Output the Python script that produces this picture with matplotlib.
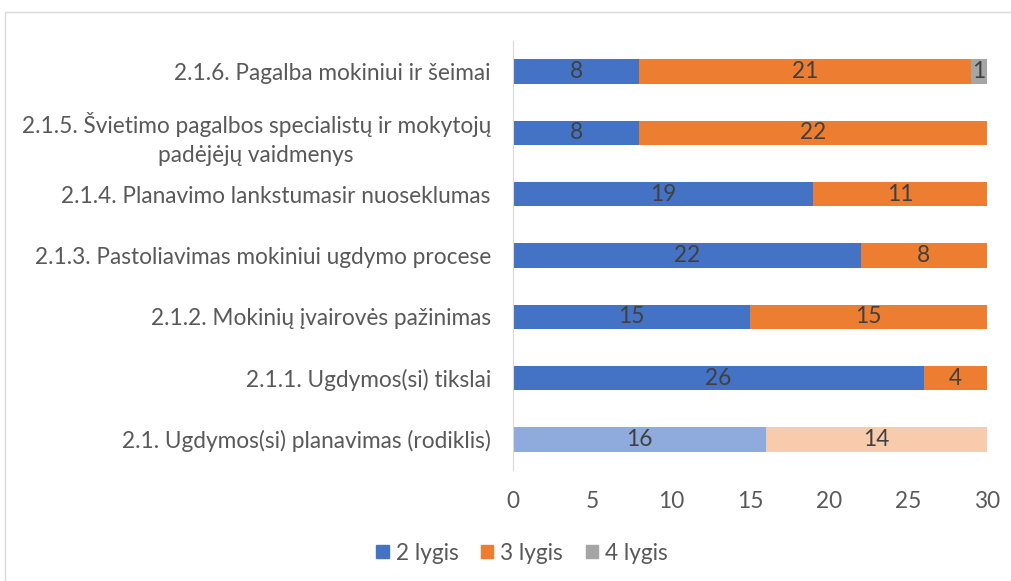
import numpy as np
import matplotlib.pyplot as plt
from matplotlib.patches import Rectangle

plt.rcParams['font.family'] = ['Lato', 'DejaVu Sans']

categories = [
    "2.1. Ugdymos(si) planavimas (rodiklis)",
    "2.1.1. Ugdymos(si) tikslai",
    "2.1.2. Mokinių įvairovės pažinimas",
    "2.1.3. Pastoliavimas mokiniui ugdymo procese",
    "2.1.4. Planavimo lankstumasir nuoseklumas",
    "2.1.5. Švietimo pagalbos specialistų ir mokytojų\npadėjėjų vaidmenys",
    "2.1.6. Pagalba mokiniui ir šeimai",
]
lygis2 = [16, 26, 15, 22, 19, 8, 8]
lygis3 = [14, 4, 15, 8, 11, 22, 21]
lygis4 = [0, 0, 0, 0, 0, 0, 1]
series_names = ["2 lygis", "3 lygis", "4 lygis"]

blue, orange, gray = "#4472C4", "#ED7D31", "#A5A5A5"
light_blue, light_orange = "#8FAADC", "#F8CBAD"
txt = "#595959"
fs = 16.3

fig = plt.figure(figsize=(10.11, 5.81), dpi=100)
fig.patches.append(Rectangle((5 / 1011, -0.1), 1.2, (581 - 12) / 581 + 0.1,
                             transform=fig.transFigure, fill=False,
                             edgecolor="#D9D9D9", linewidth=1))
ax = fig.add_axes([513 / 1011, 1 - 470 / 581, (987 - 513) / 1011, (470 - 41) / 581])

y = np.arange(len(categories))
h = 0.4
c2 = [light_blue] + [blue] * 6
c3 = [light_orange] + [orange] * 6
b2 = ax.barh(y, lygis2, h, color=c2, label=series_names[0])
b3 = ax.barh(y, lygis3, h, left=lygis2, color=c3, label=series_names[1])
left4 = np.array(lygis2) + np.array(lygis3)
b4 = ax.barh(y, lygis4, h, left=left4, color=gray, label=series_names[2])

for bars, vals in ((b2, lygis2), (b3, lygis3), (b4, lygis4)):
    for bar, v in zip(bars, vals):
        if v:
            ax.text(bar.get_x() + bar.get_width() / 2, bar.get_y() + h / 2, str(v),
                    ha="center", va="center", fontsize=fs, color="#404040")

ax.set_xlim(0, 30)
ax.set_ylim(-0.5, len(categories) - 0.5)
ax.set_xticks(range(0, 31, 5))
ax.set_yticks(y)
ax.set_yticklabels(categories)
for lbl in ax.get_yticklabels():
    lbl.set_multialignment("center")
    lbl.set_linespacing(1.45)
ax.tick_params(axis="both", length=0, labelsize=fs, colors=txt)
ax.tick_params(axis="y", pad=16)
ax.tick_params(axis="x", pad=15)
for s in ("top", "right", "bottom"):
    ax.spines[s].set_visible(False)
ax.spines["left"].set_color("#D9D9D9")

handles = [Rectangle((0, 0), 1, 1, color=c) for c in (blue, orange, gray)]
leg = fig.legend(handles, series_names, loc="center", bbox_to_anchor=(522 / 1011, 1 - 553 / 581),
                 ncol=3, frameon=False, fontsize=fs, handlelength=0.55, handleheight=0.55,
                 handletextpad=0.3, columnspacing=1.0)
for t in leg.get_texts():
    t.set_color(txt)

fig.savefig("out.png", dpi=100)
